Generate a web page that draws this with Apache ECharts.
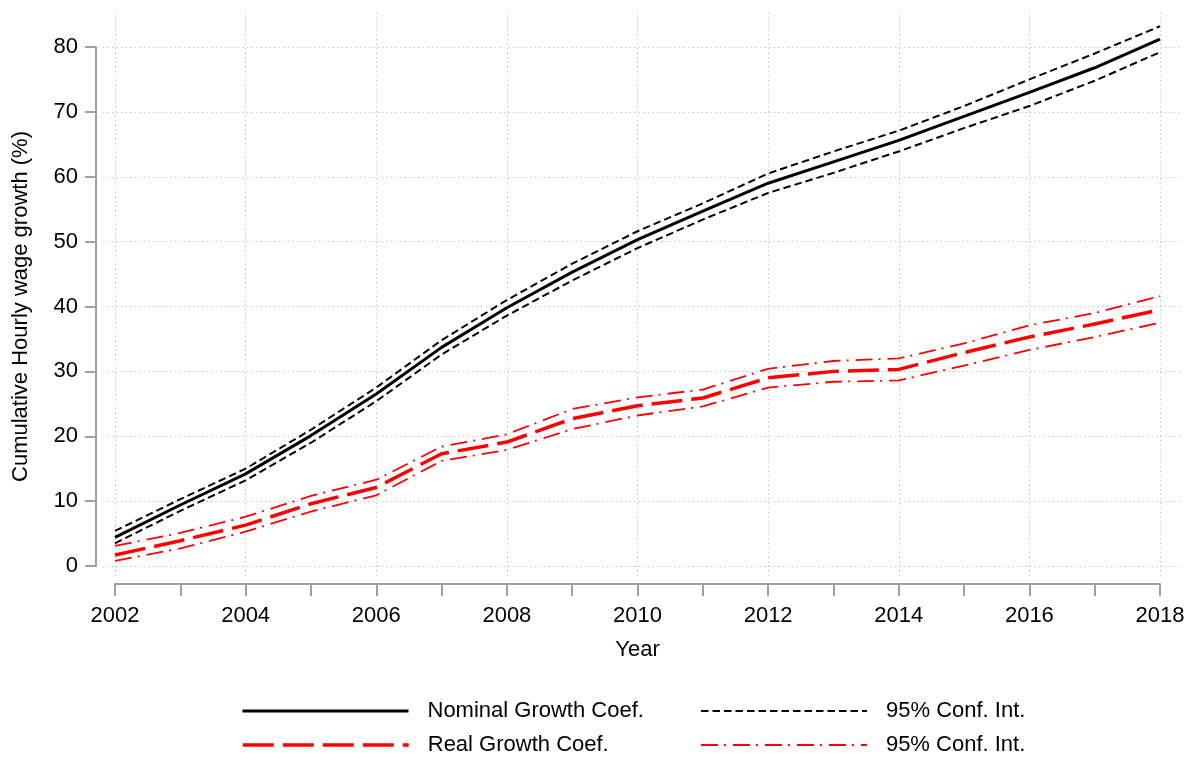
<!DOCTYPE html>
<html>
<head>
    <meta charset="UTF-8">
    <title>Cumulative Hourly wage growth</title>
    <script src="https://cdn.jsdelivr.net/npm/echarts@6/dist/echarts.min.js"></script>
    <style>
        html, body {
            margin: 0;
            padding: 0;
            background: #fff;
        }
        #main {
            width: 1201px;
            height: 763px;
        }
    </style>
</head>
<body>
<div id="main"></div>
<script type="text/javascript">
    // 年份
    var years = [2002, 2003, 2004, 2005, 2006, 2007, 2008, 2009, 2010, 2011, 2012, 2013, 2014, 2015, 2016, 2017, 2018];
    // 名义增长系数及置信区间
    var nominal = [4.4, 9.4, 14.2, 20.1, 26.5, 33.7, 39.8, 45.3, 50.3, 54.7, 59.0, 62.3, 65.6, 69.3, 73.0, 76.8, 81.2];
    var nominalUpper = [5.4, 10.3, 15.0, 21.0, 27.5, 34.8, 41.0, 46.6, 51.6, 55.9, 60.5, 63.9, 67.1, 70.9, 75.0, 79.0, 83.2];
    var nominalLower = [3.5, 8.5, 13.2, 19.0, 25.4, 32.6, 38.6, 44.0, 49.0, 53.4, 57.5, 60.6, 63.9, 67.5, 70.9, 74.8, 79.2];
    // 实际增长系数及置信区间
    var real = [1.7, 3.9, 6.3, 9.6, 12.1, 17.3, 19.1, 22.7, 24.7, 25.9, 29.0, 30.0, 30.3, 32.9, 35.3, 37.3, 39.5];
    var realUpper = [3.1, 5.1, 7.6, 10.8, 13.3, 18.4, 20.3, 24.2, 26.0, 27.2, 30.4, 31.6, 32.0, 34.3, 37.1, 39.0, 41.6];
    var realLower = [0.8, 2.7, 5.3, 8.4, 10.9, 16.2, 17.9, 21.1, 23.2, 24.6, 27.5, 28.4, 28.6, 30.9, 33.3, 35.3, 37.5];
    // 坐标轴
    var xMin = 2002, xMax = 2018;
    var yMin = 0, yMax = 80;
    var ciLabel = '95% Conf. Int.';

    function pairs(vals) {
        var out = [];
        for (var i = 0; i < years.length; i++) {
            out.push([years[i], vals[i]]);
        }
        return out;
    }

    var font = 'Liberation Sans, Arial, sans-serif';
    var axisGrey = '#a0a0a0';

    // 外层绘图区比数据区大一点 (只画网格线)
    var xPerYear = (1160 - 115) / (xMax - xMin);
    var yPerUnit = (566 - 47) / (yMax - yMin);

    var myChart = echarts.init(document.getElementById('main'));

    function legendItem(name, left, top, width) {
        return {
            data: [name],
            left: left,
            top: top,
            padding: 0,
            orient: 'horizontal',
            itemWidth: 166,
            itemHeight: 22,
            selectedMode: false,
            lineStyle: {width: width},
            itemStyle: {color: 'transparent', borderWidth: 0, opacity: 0},
            formatter: function (n) {
                return (n === 'nominalCI' || n === 'realCI') ? ciLabel : n;
            },
            textStyle: {
                color: '#000',
                fontFamily: font,
                fontSize: 22,
                padding: [0, 0, 0, 14]
            }
        };
    }

    myChart.setOption({
        animation: false,
        backgroundColor: '#fff',
        grid: [
            {left: 103, right: 21, top: 12, bottom: 185},
            {left: 115, right: 41, top: 47, bottom: 197}
        ],
        xAxis: [{
            gridIndex: 0,
            type: 'value',
            min: xMin - 12 / xPerYear,
            max: xMax + 20 / xPerYear,
            splitNumber: 8,
            minInterval: 2,
            maxInterval: 2,
            axisLine: {show: false},
            axisTick: {show: false},
            axisLabel: {show: false},
            splitLine: {
                show: true,
                showMinLine: false,
                showMaxLine: false,
                lineStyle: {color: '#c4c4c4', width: 1, type: [1.5, 3]}
            }
        }, {
            gridIndex: 1,
            type: 'value',
            min: xMin,
            max: xMax,
            interval: 1,
            offset: 18,
            axisLine: {show: true, onZero: false, lineStyle: {color: axisGrey, width: 2}},
            axisTick: {show: true, length: 12, lineStyle: {color: axisGrey, width: 2}},
            axisLabel: {
                margin: 21,
                color: '#000',
                fontFamily: font,
                fontSize: 22,
                formatter: function (v) {
                    return v % 2 === 0 ? String(v) : '';
                }
            },
            splitLine: {show: false},
            name: 'Year',
            nameLocation: 'middle',
            nameGap: 55,
            nameTextStyle: {color: '#000', fontFamily: font, fontSize: 22}
        }],
        yAxis: [{
            gridIndex: 0,
            type: 'value',
            min: yMin - 12 / yPerUnit,
            max: yMax + 35 / yPerUnit,
            splitNumber: 9,
            minInterval: 10,
            maxInterval: 10,
            axisLine: {show: false},
            axisTick: {show: false},
            axisLabel: {show: false},
            splitLine: {
                show: true,
                showMinLine: false,
                showMaxLine: false,
                lineStyle: {color: '#c4c4c4', width: 1, type: [1.5, 3]}
            }
        }, {
            gridIndex: 1,
            type: 'value',
            min: yMin,
            max: yMax,
            interval: 10,
            offset: 19,
            axisLine: {show: true, onZero: false, lineStyle: {color: axisGrey, width: 2}},
            axisTick: {show: true, length: 11, lineStyle: {color: axisGrey, width: 2}},
            axisLabel: {
                margin: 18,
                color: '#000',
                fontFamily: font,
                fontSize: 22
            },
            splitLine: {show: false},
            name: 'Cumulative Hourly wage growth (%)',
            nameLocation: 'middle',
            nameGap: 64,
            nameTextStyle: {color: '#000', fontFamily: font, fontSize: 22}
        }],
        legend: [
            legendItem('Nominal Growth Coef.', 241, 700, 3),
            legendItem('nominalCI', 700, 700, 2),
            legendItem('Real Growth Coef.', 241, 734, 3.5),
            legendItem('realCI', 700, 734, 1.8)
        ],
        series: [{
            name: 'nominalCI',
            type: 'line',
            xAxisIndex: 1, yAxisIndex: 1,
            data: pairs(nominalUpper),
            symbol: 'none',
            clip: false,
            lineStyle: {color: '#000', width: 2, type: [7.5, 4]}
        }, {
            name: 'nominalCI',
            type: 'line',
            xAxisIndex: 1, yAxisIndex: 1,
            data: pairs(nominalLower),
            symbol: 'none',
            clip: false,
            lineStyle: {color: '#000', width: 2, type: [7.5, 4]}
        }, {
            name: 'Nominal Growth Coef.',
            type: 'line',
            xAxisIndex: 1, yAxisIndex: 1,
            data: pairs(nominal),
            symbol: 'none',
            clip: false,
            lineStyle: {color: '#000', width: 3}
        }, {
            name: 'realCI',
            type: 'line',
            xAxisIndex: 1, yAxisIndex: 1,
            data: pairs(realUpper),
            symbol: 'none',
            clip: false,
            lineStyle: {color: '#ff0000', width: 1.8, type: [17, 6, 2, 7]}
        }, {
            name: 'realCI',
            type: 'line',
            xAxisIndex: 1, yAxisIndex: 1,
            data: pairs(realLower),
            symbol: 'none',
            clip: false,
            lineStyle: {color: '#ff0000', width: 1.8, type: [17, 6, 2, 7]}
        }, {
            name: 'Real Growth Coef.',
            type: 'line',
            xAxisIndex: 1, yAxisIndex: 1,
            data: pairs(real),
            symbol: 'none',
            clip: false,
            lineStyle: {color: '#ff0000', width: 3.5, type: [31, 9]}
        }]
    });
</script>
</body>
</html>
